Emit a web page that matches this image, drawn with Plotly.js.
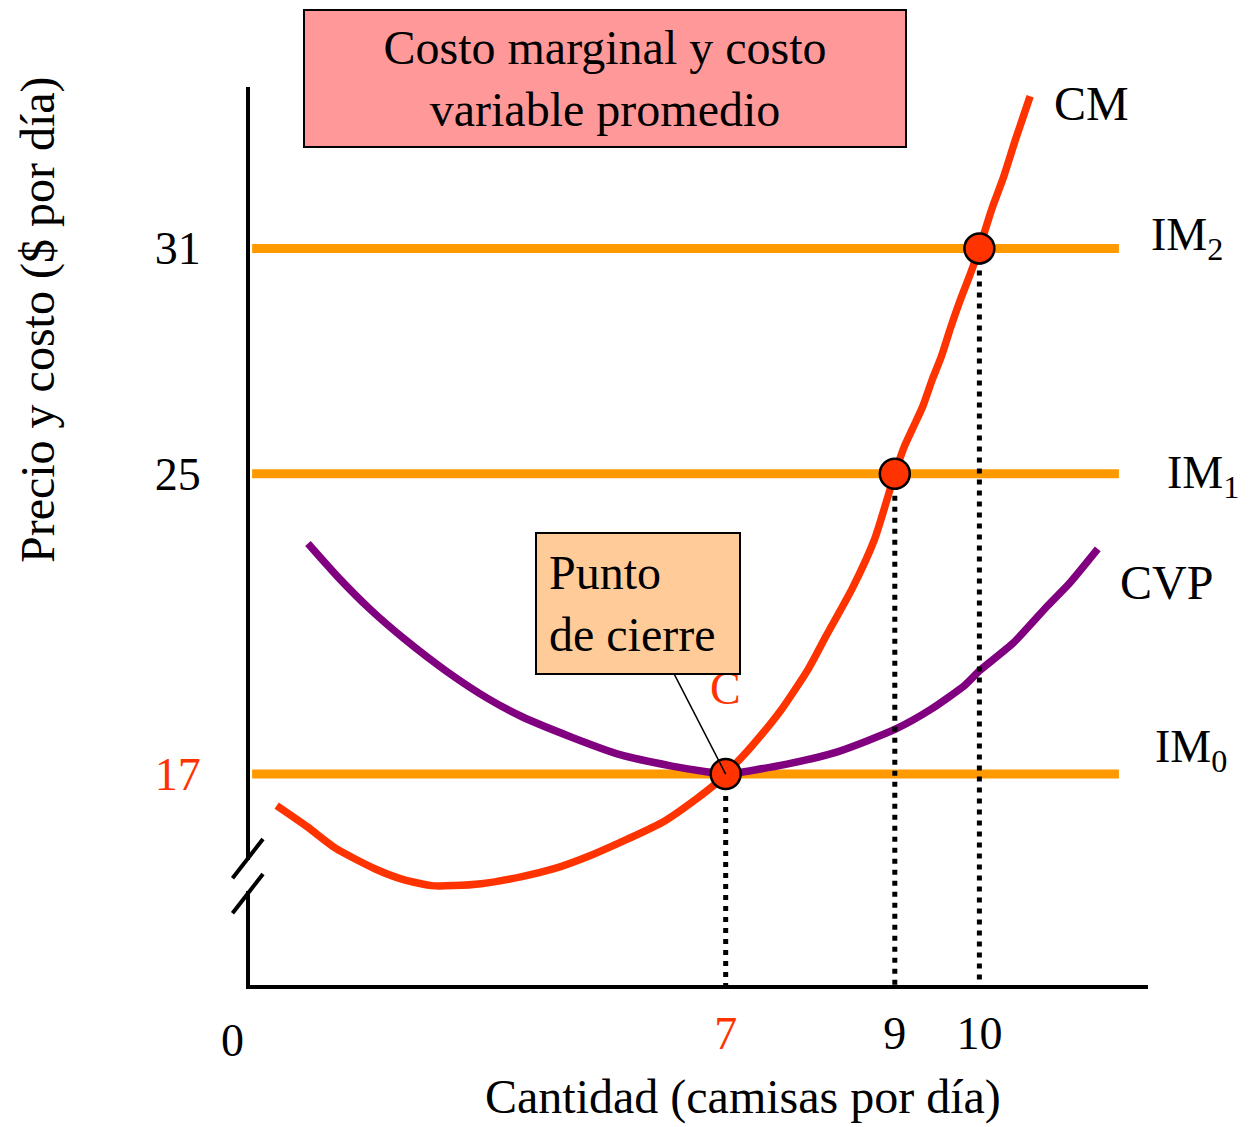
<!DOCTYPE html>
<html>
<head>
<meta charset="utf-8">
<script src="https://cdn.plot.ly/plotly-3.0.1.min.js"></script>
<style>html,body{margin:0;padding:0;background:#fff;}#chart{width:1249px;height:1127px;}</style>
</head>
<body>
<div id="chart"></div>
<script>
// ---------- data ----------
// Quantity (shirts per day) and cost ($ per day)
const cmQuantity = [1.69, 2.05, 2.39, 2.85, 3.19, 3.52, 3.78, 4.11, 4.59, 4.97, 5.43, 5.85, 6.27, 6.66, 6.91, 7,
  7.31, 7.66, 7.98, 8.19, 8.5, 8.76, 9, 9.11, 9.22, 9.33, 9.44, 9.55, 9.66, 9.77, 9.89, 10, 10.15, 10.28, 10.43, 10.60];
const cmCost = [16.16, 15.60, 15.02, 14.48, 14.19, 14.03, 14.03, 14.08, 14.27, 14.48, 14.86, 15.28, 15.74, 16.35, 16.80, 17,
  17.75, 18.72, 19.81, 20.69, 21.96, 23.25, 25, 25.71, 26.25, 26.79, 27.49, 28.12, 28.89, 29.60, 30.30, 31, 32.07, 32.86, 33.92, 35.05];

const cvpQuantity = [2.06, 2.41, 2.80, 3.20, 3.71, 4.19, 4.58, 5.17, 5.76, 6.35, 6.75, 7, 7.71, 8.33, 9, 9.43, 9.83, 10, 10.40, 10.81, 11.06, 11.40];
const cvpCost = [23.14, 22.26, 21.38, 20.60, 19.72, 19.01, 18.54, 17.99, 17.51, 17.22, 17.07, 17.00, 17.26, 17.60, 18.19, 18.73, 19.37, 19.75, 20.49, 21.49, 22.07, 23.00];

const imLevels = [17, 25, 31];            // marginal revenue levels (price)
const imLabels = ['IM<sub>0</sub>', 'IM<sub>1</sub>', 'IM<sub>2</sub>'];
const imQuantitySpan = [1.40, 11.65];     // extent of the horizontal price lines
const optimumQuantity = [7, 9, 10];       // where CM meets each IM line

const priceTicks = [17, 25, 31];
const priceTickText = ['<span style="color:#FF3300">17</span>', '25', '31'];
const quantityTicks = [7, 9, 10];
const quantityTickText = ['<span style="color:#FF3300">7</span>', '9', '10'];

// ---------- layout helpers ----------
const W = 1249, H = 1127;
const M = {l: 250, r: 101, t: 87, b: 142};
const PW = W - M.l - M.r, PH = H - M.t - M.b;
const px = x => (x - M.l) / PW;            // page pixel -> paper x
const py = y => (H - M.b - y) / PH;        // page pixel -> paper y
const xRange = [1.375, 11.994];
const yRange = [11.383, 35.298];

const FONT = 'Liberation Serif, "Times New Roman", serif';
const RED = '#FF3300', PURPLE = '#800080', ORANGE = '#FF9900';

// ---------- traces ----------
const imX = [], imY = [];
imLevels.forEach(v => { imX.push(imQuantitySpan[0], imQuantitySpan[1], null); imY.push(v, v, null); });
const dropX = [], dropY = [];
optimumQuantity.forEach((q, i) => { dropX.push(q, q, null); dropY.push(imLevels[i], yRange[0], null); });

const traces = [
  {x: imX, y: imY, mode: 'lines', line: {color: ORANGE, width: 9}, hoverinfo: 'skip'},
  {x: cvpQuantity, y: cvpCost, mode: 'lines', line: {color: PURPLE, width: 7.5, shape: 'spline', smoothing: 0.6}, name: 'CVP'},
  {x: cmQuantity, y: cmCost, mode: 'lines', line: {color: RED, width: 7.5, shape: 'spline', smoothing: 0.6}, name: 'CM'},
  {x: dropX, y: dropY, mode: 'lines', line: {color: 'black', width: 5, dash: '5px,6px'}, hoverinfo: 'skip'},
  {x: optimumQuantity, y: imLevels, mode: 'markers',
   marker: {size: 30, color: RED, line: {color: 'black', width: 2.5}}}
];

// ---------- annotations ----------
const annotations = [
  {xref: 'paper', yref: 'paper', x: px(1052), y: py(103), xanchor: 'left', yanchor: 'middle', text: 'CM',
   showarrow: false, font: {family: FONT, size: 48, color: 'black'}},
  {xref: 'paper', yref: 'paper', x: px(1149), y: py(238), xanchor: 'left', yanchor: 'middle', text: imLabels[2],
   showarrow: false, font: {family: FONT, size: 46, color: 'black'}},
  {xref: 'paper', yref: 'paper', x: px(1165), y: py(476), xanchor: 'left', yanchor: 'middle', text: imLabels[1],
   showarrow: false, font: {family: FONT, size: 46, color: 'black'}},
  {xref: 'paper', yref: 'paper', x: px(1118), y: py(582), xanchor: 'left', yanchor: 'middle', text: 'CVP',
   showarrow: false, font: {family: FONT, size: 48, color: 'black'}},
  {xref: 'paper', yref: 'paper', x: px(1153), y: py(750), xanchor: 'left', yanchor: 'middle', text: imLabels[0],
   showarrow: false, font: {family: FONT, size: 46, color: 'black'}},
  {xref: 'paper', yref: 'paper', x: px(232.5), y: py(1040), xanchor: 'center', yanchor: 'middle', text: '0',
   showarrow: false, font: {family: FONT, size: 46, color: 'black'}},
  {xref: 'paper', yref: 'paper', x: px(743), y: py(1097), xanchor: 'center', yanchor: 'middle',
   text: 'Cantidad (camisas por día)', showarrow: false, font: {family: FONT, size: 48, color: 'black'}},
  {xref: 'paper', yref: 'paper', x: px(38), y: py(320), xanchor: 'center', yanchor: 'middle', textangle: -90,
   text: 'Precio y costo ($ por día)', showarrow: false, font: {family: FONT, size: 48, color: 'black'}},
  {xref: 'x', yref: 'y', x: optimumQuantity[0], y: imLevels[0], yshift: 86, text: 'C', showarrow: false,
   font: {family: FONT, size: 46, color: RED}},
  {xref: 'x', yref: 'y', x: optimumQuantity[0], y: imLevels[0], text: 'Punto<br>de cierre', align: 'left',
   showarrow: true, arrowhead: 0, arrowwidth: 1.5, arrowcolor: 'black', standoff: 0, ax: -88, ay: -171,
   bgcolor: '#FFCC99', bordercolor: 'black', borderwidth: 2, borderpad: 12, width: 178,
   font: {family: FONT, size: 48, color: 'black'}}
];

// ---------- shapes ----------
const shapes = [
  {type: 'rect', xref: 'paper', yref: 'paper', x0: px(304), x1: px(906), y0: py(147), y1: py(10),
   fillcolor: '#FF9999', line: {color: 'black', width: 2}, layer: 'above'},
  {type: 'rect', xref: 'paper', yref: 'paper', x0: px(242), x1: px(254), y0: py(891), y1: py(860),
   fillcolor: 'white', line: {width: 0}, layer: 'above'},
  {type: 'line', xref: 'paper', yref: 'paper', x0: px(232.5), y0: py(878.3), x1: px(263), y1: py(839),
   line: {color: 'black', width: 4}, layer: 'above'},
  {type: 'line', xref: 'paper', yref: 'paper', x0: px(232.5), y0: py(913.3), x1: px(263), y1: py(874),
   line: {color: 'black', width: 4}, layer: 'above'}
];

const layout = {
  width: W, height: H, margin: M,
  paper_bgcolor: 'white', plot_bgcolor: 'rgba(0,0,0,0)',
  showlegend: false, hovermode: false,
  title: {text: 'Costo marginal y costo<br>variable promedio', font: {family: FONT, size: 48, color: 'black'},
          xref: 'paper', x: px(605), xanchor: 'center', yref: 'container', y: 1 - 64 / H, yanchor: 'middle'},
  xaxis: {range: xRange, showline: true, linecolor: 'black', linewidth: 4, showgrid: false, zeroline: false,
          ticks: '', tickvals: quantityTicks, ticktext: quantityTickText, ticklabelstandoff: 5,
          tickfont: {family: FONT, size: 46, color: 'black'}, fixedrange: true},
  yaxis: {range: yRange, showline: true, linecolor: 'black', linewidth: 4, showgrid: false, zeroline: false,
          ticks: '', tickvals: priceTicks, ticktext: priceTickText, ticklabelstandoff: 36,
          tickfont: {family: FONT, size: 46, color: 'black'}, fixedrange: true},
  annotations: annotations,
  shapes: shapes
};

Plotly.newPlot('chart', traces, layout, {displayModeBar: false, staticPlot: true});
</script>
</body>
</html>
